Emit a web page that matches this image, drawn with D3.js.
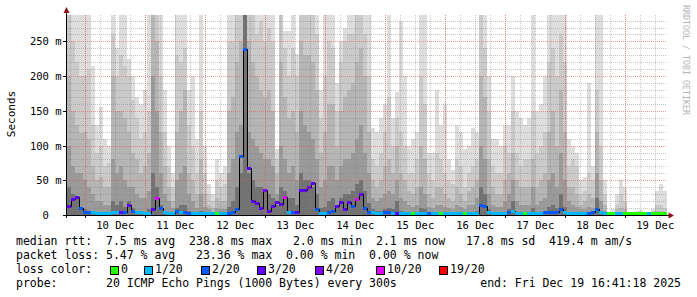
<!DOCTYPE html>
<html>
<head>
<meta charset="utf-8">
<script src="https://cdn.jsdelivr.net/npm/d3@7"></script>
<style>
  body { margin: 0; background: #fff; }
  svg { display: block; }
  text { font-family: "DejaVu Sans Mono", monospace; white-space: pre; }
</style>
</head>
<body>
<svg id="chart" width="697" height="297"></svg>
<script>
// smoke bands (ms), one value per 96-minute bin, outer (lightest) first
const smokeTop = [
  288,288,288,288,288,288,215,130,155,110, 100,288,240,288,288,225,200,170,160,180,
  288,288,288,288,180,100,60,288,288,288, 180,200,110,288,100,45,30,80,60,70,
  288,288,288,288,288,288,288,288,288,288, 288,288,95,288,265,265,288,232,288,288,
  288,288,288,180,288,288,288,190,250,270, 288,288,288,288,288,288,125,120,140,160,
  288,140,177,280,200,100,110,120,288,288, 90,90,180,130,160,80,65,130,120,95,
  100,125,120,288,288,200,110,110,100,130, 130,200,150,140,130,140,288,150,160,200,
  288,288,288,288,288,110,100,90,50,55, 190,70,288,288,50,5,8,30,50,40,
  5,5,6,7,4,5,8,35,45,35
];
const smoke2 = [
  288,250,220,200,200,210,130,90,100,70, 75,260,200,230,215,200,165,140,110,120,
  150,288,288,200,120,70,40,230,220,240, 130,100,60,150,60,30,20,50,40,45,
  250,250,288,288,288,288,288,260,280,250, 270,250,80,288,240,200,240,200,288,288,
  288,288,260,140,200,250,240,150,220,250, 260,260,288,288,260,200,80,70,90,120,
  170,100,140,120,100,60,60,80,200,160, 60,50,90,80,60,50,45,80,70,40,
  60,70,80,288,240,150,70,60,60,100, 90,150,90,70,80,80,150,90,100,120,
  220,240,200,260,220,70,80,70,30,35, 60,50,180,100,30,4,5,15,30,20,
  4,4,4,4,3,4,6,15,15,10
];
const smoke3 = [
  200,150,130,118,120,110,70,50,55,40, 40,200,150,150,140,120,90,80,60,70,
  90,288,250,120,70,40,20,120,150,180, 60,50,30,80,30,15,10,25,20,20,
  150,170,220,250,288,250,220,200,180,170, 180,150,60,220,170,140,150,120,250,230,
  230,220,180,90,120,160,160,100,150,170, 180,190,220,240,200,120,50,40,50,70,
  80,60,100,60,50,35,30,40,100,80, 30,25,40,40,30,25,20,40,30,20,
  35,40,50,200,170,80,40,30,30,50, 60,90,50,40,40,40,80,40,50,60,
  120,150,100,180,120,40,40,30,15,20, 30,25,120,50,15,3,3,8,10,8,
  3,3,3,3,3,3,3,6,6,5
];
const smoke4 = [
  100,70,60,60,50,40,30,20,20,15, 15,80,60,70,50,40,40,30,25,25,
  35,200,150,60,30,20,10,50,60,70, 30,20,10,30,12,8,5,10,8,8,
  60,80,120,130,288,120,110,100,90,80, 80,70,30,100,80,60,70,50,150,130,
  120,110,80,40,50,70,70,50,70,80, 80,90,110,130,90,60,25,20,25,30,
  35,30,50,25,20,15,12,15,40,30, 12,10,15,15,12,10,8,15,12,8,
  15,15,25,100,80,30,15,12,12,20, 30,50,20,15,15,15,40,15,20,25,
  50,60,40,90,50,20,15,12,8,8, 12,10,60,20,6,2,2,4,4,4,
  2,2,2,2,2,2,2,3,3,3
];
const smoke5 = [
  40,30,25,10,8,6,5,4,4,3, 3,20,15,20,12,20,10,6,5,5,
  8,60,40,15,6,4,3,10,15,15, 6,5,3,6,3,3,2,3,3,3,
  12,20,40,60,288,60,50,40,40,35, 30,25,15,40,35,25,25,15,60,50,
  50,40,30,10,12,20,25,15,25,30, 30,35,45,50,35,18,8,6,6,8,
  10,8,20,6,5,4,3,4,10,8, 3,3,4,4,3,3,3,4,3,3,
  4,4,6,40,30,8,4,3,3,5, 8,20,5,4,4,4,10,4,5,6,
  12,15,10,30,12,5,4,4,3,3, 4,4,25,5,3,2,2,2,2,2,
  2,2,2,2,2,2,2,2,2,2
];
// median rtt (ms) and lost pings (of 20) per bin
const median = [
  12,22,25,10,3,3,3,2,2,2, 2,3,3,4,4,14,5,3,3,2,
  2,8,24,10,3,2,2,5,4,4, 2,2,2,2,2,2,2,2,2,2,
  2,3,8,84,238,67,20,16,10,36, 5,12,18,15,25,4,3,4,36,35,
  40,45,8,2,2,4,5,12,18,8, 18,12,22,30,10,4,4,2,2,3,
  4,2,2,2,2,2,2,2,2,2, 2,2,2,2,2,2,2,2,2,2,
  2,2,2,14,12,3,2,2,2,2, 4,5,2,2,2,2,2,2,2,3,
  3,4,3,8,3,2,2,2,2,2, 2,3,8,4,2,2,2,2,2,2,
  2,2,2,2,2,2,2,2,2,2
];
const lossCount = [
  3,3,3,2,2,2,1,1,1,1, 1,1,1,3,2,3,2,1,1,1,
  1,3,10,2,1,1,1,2,1,2, 2,1,1,1,1,1,1,0,1,1,
  2,2,2,2,2,3,3,3,3,4, 3,3,3,3,10,1,2,3,3,3,
  4,3,2,1,1,2,2,3,3,3, 3,2,10,3,2,2,1,1,1,2,
  2,1,3,1,1,1,0,1,1,1, 2,1,1,0,1,1,1,1,1,0,
  1,1,1,2,2,1,1,1,1,1, 2,1,1,1,0,1,1,1,1,2,
  2,2,2,2,1,1,1,1,1,1, 2,2,2,1,1,0,0,1,1,0,
  0,0,0,0,0,1,0,0,0,0
];

const yTicks = [0, 50, 100, 150, 200, 250];
const yTickLabels = ["0  ", "50 m", "100 m", "150 m", "200 m", "250 m"];
const dayLabels = ["10 Dec","11 Dec","12 Dec","13 Dec","14 Dec","15 Dec","16 Dec","17 Dec","18 Dec","19 Dec"];
const lossLevels = [0, 1, 2, 3, 4, 10, 19];
const lossLabels = ["0", "1/20", "2/20", "3/20", "4/20", "10/20", "19/20"];
const lossColors = ["#26ff00", "#00b8ff", "#0059ff", "#5e00ff", "#7e00ff", "#dd00ff", "#ff0000"];
const legendLines = [
  "median rtt:  7.5 ms avg  238.8 ms max   2.0 ms min  2.1 ms now   17.8 ms sd  419.4 m am/s",
  "packet loss: 5.47 % avg   23.36 % max  0.00 % min  0.00 % now",
  "loss color:",
  "probe:       20 ICMP Echo Pings (1000 Bytes) every 300s"
];
const endLabel = "end: Fri Dec 19 16:41:18 2025";

const yMax = 288;
const plot = { left: 67, right: 667, top: 15, bottom: 215 };
const tStart = new Date(Date.UTC(2025, 11, 9, 16, 41, 18));
const tEnd = new Date(Date.UTC(2025, 11, 19, 16, 41, 18));
const nBins = median.length;
const binMs = (tEnd - tStart) / nBins;
const binTimes = d3.range(nBins + 1).map(i => new Date(+tStart + i * binMs));

const x = d3.scaleUtc().domain([tStart, tEnd]).range([plot.left, plot.right]);
const y = d3.scaleLinear().domain([0, yMax]).range([plot.bottom, plot.top]).clamp(true);

const svg = d3.select('#chart');

// smoke
const smokeLayers = [smokeTop, smoke2, smoke3, smoke4, smoke5];
const smokeGrays = ["#dddddd", "#cacaca", "#b5b5b5", "#9a9a9a", "#727272"];
smokeLayers.forEach((vals, k) => {
  svg.append('g')
      .attr('fill', smokeGrays[k])
      .attr('shape-rendering', 'crispEdges')
    .selectAll('rect')
    .data(vals)
    .join('rect')
      .attr('x', (d, i) => x(binTimes[i]))
      .attr('width', (d, i) => x(binTimes[i + 1]) - x(binTimes[i]))
      .attr('y', d => y(d))
      .attr('height', d => y(0) - y(d));
});

// grid
const grid = svg.append('g').attr('shape-rendering', 'crispEdges').attr('stroke-dasharray', '1,1');
const minorX = d3.utcHour.every(6).range(tStart, tEnd);
const majorX = d3.utcDay.range(tStart, tEnd);
const minorY = d3.range(10, yMax, 10).filter(v => v % 50 !== 0);
const majorY = yTicks.filter(v => v > 0);

grid.selectAll('line.minx').data(minorX).join('line')
    .attr('x1', d => Math.round(x(d)) + 0.5).attr('x2', d => Math.round(x(d)) + 0.5)
    .attr('y1', plot.top).attr('y2', plot.bottom)
    .attr('stroke', 'rgba(130,130,130,0.45)');
grid.selectAll('line.miny').data(minorY).join('line')
    .attr('x1', plot.left).attr('x2', plot.right)
    .attr('y1', d => Math.round(y(d)) + 0.5).attr('y2', d => Math.round(y(d)) + 0.5)
    .attr('stroke', 'rgba(130,130,130,0.45)');
grid.selectAll('line.majx').data(majorX).join('line')
    .attr('x1', d => Math.round(x(d)) + 0.5).attr('x2', d => Math.round(x(d)) + 0.5)
    .attr('y1', plot.top).attr('y2', plot.bottom)
    .attr('stroke', 'rgba(230,90,90,0.6)');
grid.selectAll('line.majy').data(majorY).join('line')
    .attr('x1', plot.left).attr('x2', plot.right)
    .attr('y1', d => Math.round(y(d)) + 0.5).attr('y2', d => Math.round(y(d)) + 0.5)
    .attr('stroke', 'rgba(230,90,90,0.6)');

// median line (black) and loss coloured segments
const medPts = median.map((m, i) => [x(binTimes[i]), y(m)]);
medPts.push([x(binTimes[nBins]), y(median[nBins - 1])]);
svg.append('path')
    .attr('d', d3.line().curve(d3.curveStepAfter)(medPts))
    .attr('fill', 'none')
    .attr('stroke', '#000')
    .attr('stroke-width', 1)
    .attr('shape-rendering', 'crispEdges');

const lossColor = c => {
  let idx = 0;
  lossLevels.forEach((lv, j) => { if (c >= lv) idx = j; });
  return lossColors[idx];
};
svg.append('g').attr('shape-rendering', 'crispEdges')
  .selectAll('rect')
  .data(median)
  .join('rect')
    .attr('x', (d, i) => x(binTimes[i]))
    .attr('width', (d, i) => x(binTimes[i + 1]) - x(binTimes[i]))
    .attr('y', d => Math.min(y(d) - 1.5, plot.bottom - 3))
    .attr('height', 3)
    .attr('fill', (d, i) => lossColor(lossCount[i]));

// axes
const axes = svg.append('g').attr('shape-rendering', 'crispEdges').attr('stroke', '#000');
axes.append('line').attr('x1', 64).attr('x2', 670).attr('y1', plot.bottom + 0.5).attr('y2', plot.bottom + 0.5);
axes.append('line').attr('x1', plot.left - 0.5).attr('x2', plot.left - 0.5).attr('y1', 218).attr('y2', 11);
axes.selectAll('line.tx').data(majorX).join('line')
    .attr('x1', d => Math.round(x(d)) + 0.5).attr('x2', d => Math.round(x(d)) + 0.5)
    .attr('y1', plot.bottom).attr('y2', plot.bottom + 3);
axes.selectAll('line.ty').data(yTicks).join('line')
    .attr('x1', plot.left - 4).attr('x2', plot.left)
    .attr('y1', d => Math.round(y(d)) + 0.5).attr('y2', d => Math.round(y(d)) + 0.5);

svg.append('polygon')
    .attr('points', [[plot.left - 0.5, 7], [plot.left - 3.5, 13], [plot.left + 2.5, 13]].join(' '))
    .attr('fill', '#8b1010');
svg.append('polygon')
    .attr('points', [[674, plot.bottom + 0.5], [668.5, plot.bottom - 2.5], [668.5, plot.bottom + 3.5]].join(' '))
    .attr('fill', '#8b1010');

// tick labels
svg.append('g').selectAll('text').data(yTicks).join('text')
    .attr('x', 61.5)
    .attr('y', d => y(d) + 4)
    .attr('text-anchor', 'end')
    .attr('font-size', '10.5px')
    .text((d, i) => yTickLabels[i]);

const noonTimes = majorX.map(d => d3.utcHour.offset(d, 12));
svg.append('g').selectAll('text').data(dayLabels).join('text')
    .attr('x', (d, i) => x(noonTimes[i]))
    .attr('y', 228.5)
    .attr('text-anchor', 'middle')
    .attr('font-size', '10.5px')
    .text(d => d);

svg.append('text')
    .attr('transform', 'translate(15,114) rotate(-90)')
    .attr('text-anchor', 'middle')
    .attr('font-size', '11px')
    .text('Seconds');

svg.append('text')
    .attr('transform', 'translate(683,5) rotate(90)')
    .attr('font-size', '9px')
    .attr('fill', '#b4b4b4')
    .attr('textLength', 110)
    .attr('lengthAdjust', 'spacingAndGlyphs')
    .text('RRDTOOL / TOBI OETIKER');

// legend
const legendY = [244.5, 258.5, 272.7, 287];
svg.append('g').selectAll('text').data(legendLines).join('text')
    .attr('x', 16)
    .attr('y', (d, i) => legendY[i])
    .attr('font-size', '11.5px')
    .text(d => d);

svg.append('text')
    .attr('x', 681)
    .attr('y', legendY[3])
    .attr('text-anchor', 'end')
    .attr('font-size', '11.5px')
    .text(endLabel);

const lossLegendX = [121, 155, 212, 268, 326, 387, 450];
const lossItems = svg.append('g');
lossItems.selectAll('rect').data(lossColors).join('rect')
    .attr('x', (d, i) => lossLegendX[i] - 10.5)
    .attr('y', 266.5)
    .attr('width', 8)
    .attr('height', 8)
    .attr('fill', d => d)
    .attr('stroke', '#000')
    .attr('shape-rendering', 'crispEdges');
lossItems.selectAll('text').data(lossLabels).join('text')
    .attr('x', (d, i) => lossLegendX[i])
    .attr('y', legendY[2])
    .attr('font-size', '11.5px')
    .text(d => d);
</script>
</body>
</html>
